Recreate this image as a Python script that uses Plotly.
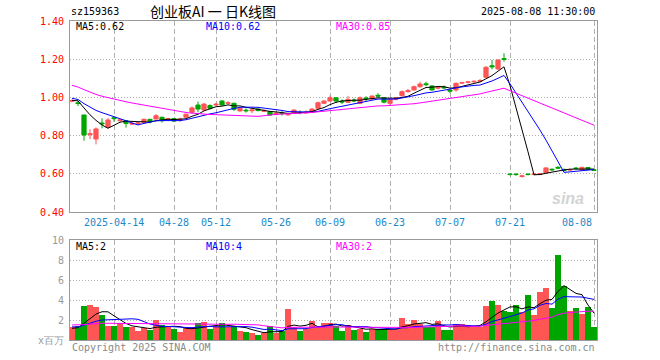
import pandas as pd
import plotly.graph_objects as go

# ---------------- data ----------------
holidays = ["2025-04-04", "2025-05-01", "2025-05-02", "2025-05-05", "2025-06-02"]
dates = [d.strftime("%Y-%m-%d") for d in
         pd.bdate_range("2025-04-02", "2025-08-08", freq="C", holidays=holidays)]

open_ = [0.980, 0.972, 0.908, 0.805, 0.782, 0.866, 0.844, 0.893, 0.878, 0.878,
         0.860, 0.862, 0.868, 0.885, 0.887, 0.896, 0.884, 0.889, 0.882, 0.896,
         0.922, 0.960, 0.934, 0.957, 0.960, 0.981, 0.969, 0.969, 0.929, 0.933,
         0.930, 0.939, 0.928, 0.926, 0.913, 0.918, 0.909, 0.917, 0.922, 0.919,
         0.925, 0.943, 0.969, 0.981, 0.998, 0.980, 0.974, 0.986, 0.969, 0.997,
         0.992, 1.011, 0.998, 0.969, 0.990, 1.009, 1.030, 1.039, 1.056, 1.071,
         1.060, 1.048, 1.054, 1.038, 1.039, 1.075, 1.079, 1.082, 1.085, 1.105,
         1.166, 1.149, 1.203, 0.598, 0.598, 0.586, 0.598, 0.596, 0.597, 0.605,
         0.624, 0.634, 0.622, 0.620, 0.630, 0.620, 0.633, 0.621]
high = [0.990, 0.983, 0.908, 0.833, 0.843, 0.891, 0.891, 0.902, 0.886, 0.880,
        0.870, 0.872, 0.890, 0.888, 0.913, 0.899, 0.893, 0.892, 0.893, 0.915,
        0.953, 0.978, 0.970, 0.964, 0.972, 0.985, 0.980, 0.972, 0.947, 0.943,
        0.947, 0.943, 0.937, 0.928, 0.922, 0.928, 0.918, 0.936, 0.932, 0.932,
        0.943, 0.978, 0.985, 1.010, 1.000, 0.990, 1.008, 0.995, 1.005, 1.006,
        1.010, 1.022, 1.000, 0.993, 1.000, 1.036, 1.045, 1.062, 1.082, 1.082,
        1.064, 1.058, 1.062, 1.042, 1.077, 1.082, 1.086, 1.090, 1.096, 1.163,
        1.196, 1.198, 1.231, 0.603, 0.604, 0.595, 0.604, 0.602, 0.604, 0.633,
        0.628, 0.640, 0.628, 0.626, 0.634, 0.636, 0.636, 0.624]
low = [0.975, 0.955, 0.773, 0.781, 0.754, 0.838, 0.838, 0.874, 0.872, 0.842,
       0.855, 0.857, 0.866, 0.864, 0.885, 0.868, 0.878, 0.872, 0.872, 0.893,
       0.915, 0.922, 0.930, 0.936, 0.955, 0.957, 0.962, 0.929, 0.926, 0.920,
       0.918, 0.927, 0.923, 0.905, 0.906, 0.905, 0.903, 0.915, 0.912, 0.914,
       0.922, 0.940, 0.965, 0.978, 0.970, 0.965, 0.970, 0.975, 0.965, 0.977,
       0.988, 0.998, 0.969, 0.960, 0.985, 1.005, 1.025, 1.036, 1.050, 1.058,
       1.035, 1.042, 1.045, 1.022, 1.030, 1.070, 1.073, 1.076, 1.079, 1.103,
       1.147, 1.143, 1.187, 0.592, 0.590, 0.580, 0.592, 0.592, 0.594, 0.603,
       0.614, 0.625, 0.612, 0.615, 0.622, 0.618, 0.620, 0.616]
close = [0.983, 0.968, 0.803, 0.810, 0.835, 0.862, 0.882, 0.889, 0.882, 0.864,
         0.864, 0.866, 0.885, 0.873, 0.904, 0.878, 0.888, 0.876, 0.886, 0.912,
         0.945, 0.939, 0.965, 0.943, 0.964, 0.960, 0.972, 0.938, 0.943, 0.930,
         0.934, 0.931, 0.930, 0.908, 0.917, 0.915, 0.912, 0.934, 0.920, 0.922,
         0.939, 0.972, 0.981, 0.998, 0.981, 0.976, 0.990, 0.982, 0.998, 0.993,
         1.007, 1.007, 0.975, 0.990, 0.998, 1.030, 1.036, 1.056, 1.070, 1.067,
         1.039, 1.054, 1.050, 1.033, 1.074, 1.077, 1.081, 1.084, 1.088, 1.158,
         1.160, 1.196, 1.199, 0.596, 0.596, 0.589, 0.596, 0.598, 0.601, 0.631,
         0.621, 0.630, 0.618, 0.622, 0.628, 0.634, 0.622, 0.618]
volume = [1.33, 1.43, 3.40, 3.50, 3.30, 2.50, 1.40, 1.40, 1.67, 1.30,
          1.30, 0.93, 1.17, 1.00, 2.00, 1.50, 1.27, 1.10, 0.83, 1.17,
          1.27, 1.67, 1.80, 1.10, 1.40, 1.67, 1.33, 1.40, 0.93, 0.83,
          0.70, 0.50, 0.67, 1.40, 0.73, 0.90, 3.10, 1.33, 0.90, 1.10,
          1.93, 1.27, 1.67, 1.67, 1.43, 0.93, 1.50, 1.00, 1.13, 0.83,
          1.13, 1.10, 1.10, 1.10, 1.10, 2.20, 1.60, 2.00, 1.60, 1.27,
          1.33, 1.90, 1.00, 1.00, 1.57, 1.57, 1.47, 1.33, 1.33, 3.40,
          3.90, 3.50, 2.90, 2.83, 3.50, 2.83, 4.50, 2.50, 4.83, 5.23,
          3.23, 8.50, 5.40, 2.93, 3.23, 2.60, 3.33, 1.33]

# closes / volumes of the 29 sessions before the window (feed the moving averages)
prior_close = [1.24, 1.22, 1.20, 1.19, 1.15, 1.12, 1.11, 1.08, 1.07, 1.06,
               1.04, 1.02, 1.02, 1.06, 1.09, 1.10, 1.06, 1.03, 1.04, 1.05,
               1.03, 1.02, 1.01, 0.99, 0.98, 0.98, 0.99, 0.99, 0.98]
prior_volume = [1.9, 2.1, 1.8, 1.7, 1.6, 1.5, 1.6, 1.7, 1.4, 1.5,
                1.6, 1.5, 1.4, 1.6, 1.7, 1.5, 1.4, 1.5, 1.6, 1.4,
                1.5, 1.6, 1.4, 1.5, 1.3, 1.1, 1.2, 1.0, 1.2]

tick_dates = ["2025-04-14", "2025-04-28", "2025-05-12", "2025-05-26", "2025-06-09",
              "2025-06-23", "2025-07-07", "2025-07-21", "2025-08-08"]
tick_labels = ["2025-04-14", "04-28", "05-12", "05-26", "06-09",
               "06-23", "07-07", "07-21", "08-08"]
price_ticks = [0.40, 0.60, 0.80, 1.00, 1.20, 1.40]
vol_ticks = [0, 2, 4, 6, 8, 10]
vol_tick_labels = ["x百万", "2", "4", "6", "8", "10"]
ma_periods = [5, 10, 30]

code = "sz159363"
title = "创业板AI 一 日K线图"
stamp = "2025-08-08 11:30:00"

# ---------------- styles ----------------
RED = "#FF5555"
GREEN = "#00A600"
MA_COLORS = ["#000000", "#0000FF", "#FF00FF"]
MONO = "DejaVu Sans Mono"
FRAME = "#9a9a9a"
GRID = "#b0b0b0"

L, R, T, B = 70, 597, 21, 340
W, H = 660, 360


def pxx(px):
    return (px - L) / (R - L)


def pxy(py):
    return (B - py) / (B - T)


def moving(values, prior, n):
    s = pd.Series(list(prior) + list(values)).rolling(n).mean()
    return s.iloc[len(prior):].tolist()


price_ma = [moving(close, prior_close, n) for n in ma_periods]
vol_ma = [moving(volume, prior_volume, n) for n in ma_periods]
bar_colors = [RED if c >= o else GREEN for o, c in zip(open_, close)]

fig = go.Figure()

fig.add_trace(go.Candlestick(
    x=dates, open=open_, high=high, low=low, close=close,
    increasing=dict(line=dict(color=RED, width=1), fillcolor=RED),
    decreasing=dict(line=dict(color=GREEN, width=1), fillcolor=GREEN),
    whiskerwidth=0, xaxis="x", yaxis="y", showlegend=False, hoverinfo="skip"))

for ma, col in zip(price_ma, MA_COLORS):
    fig.add_trace(go.Scatter(x=dates, y=ma, mode="lines",
                             line=dict(color=col, width=1),
                             xaxis="x", yaxis="y", showlegend=False, hoverinfo="skip"))

fig.add_trace(go.Bar(x=dates, y=volume, marker=dict(color=bar_colors, line=dict(width=0)),
                     width=0.84, xaxis="x2", yaxis="y2", showlegend=False, hoverinfo="skip"))

for ma, col in zip(vol_ma, MA_COLORS):
    fig.add_trace(go.Scatter(x=dates, y=ma, mode="lines",
                             line=dict(color=col, width=1),
                             xaxis="x2", yaxis="y2", showlegend=False, hoverinfo="skip"))

xr = [-0.333, len(dates) - 1 + 0.5]

common_x = dict(type="category", range=xr, tickvals=tick_dates, showticklabels=False,
                showgrid=True, gridcolor=GRID, griddash="5px,3px", gridwidth=1,
                showline=True, mirror=True, linecolor=FRAME, linewidth=1,
                zeroline=False, ticks="", fixedrange=True)

fig.update_layout(
    width=W, height=H,
    margin=dict(l=L, r=W - R, t=T, b=H - B, autoexpand=False),
    paper_bgcolor="white", plot_bgcolor="white",
    showlegend=False, bargap=0, boxgap=0.3, boxgroupgap=0,
    xaxis=dict(common_x, domain=[0, 1], anchor="y", rangeslider=dict(visible=False)),
    xaxis2=dict(common_x, domain=[0, 1], anchor="y2", matches="x"),
    yaxis=dict(domain=[pxy(212), 1], range=[0.40, 1.40], tickvals=price_ticks,
               ticktext=[f"{v:.2f}" for v in price_ticks],
               tickfont=dict(family=MONO, size=10, color="#FF0000"),
               showgrid=True, gridcolor=GRID, griddash="1px,2px", gridwidth=1,
               showline=True, mirror=True, linecolor=FRAME, linewidth=1,
               zeroline=False, ticks="outside", ticklen=3, tickcolor="rgba(0,0,0,0)",
               fixedrange=True),
    yaxis2=dict(domain=[0, pxy(240)], range=[0, 10], tickvals=vol_ticks,
                ticktext=vol_tick_labels,
                tickfont=dict(family=MONO, size=10, color="#999999"),
                showgrid=True, gridcolor=GRID, griddash="1px,2px", gridwidth=1,
                showline=True, mirror=True, linecolor=FRAME, linewidth=1,
                zeroline=False, ticks="outside", ticklen=3, tickcolor="rgba(0,0,0,0)",
                fixedrange=True),
)

ann = []


def text(x, y, s, color="#000000", size=10, family=MONO, xanchor="left", **kw):
    ann.append(dict(x=pxx(x), y=pxy(y), xref="paper", yref="paper", text=s,
                    showarrow=False, xanchor=xanchor, yanchor="middle",
                    font=dict(family=family, size=size, color=color), **kw))


text(69, 11, code)
text(213, 11, title, size=14, family="Noto Sans CJK SC", xanchor="center")
text(597, 11, stamp, xanchor="right")

legend_x = [74, 204, 334]
for n, ma, col, lx in zip(ma_periods, price_ma, MA_COLORS, legend_x):
    text(lx, 27, f"MA{n}:{ma[-1]:.2f}", color=col)
for n, ma, col, lx in zip(ma_periods, vol_ma, MA_COLORS, legend_x):
    text(lx, 246, f"MA{n}:{int(ma[-1])}", color=col)

text(70, 347, "Copyright 2025 SINA.COM", color="#8a8a8a")
text(597, 347, "http://finance.sina.com.cn", color="#8a8a8a", xanchor="right")
text(568, 198, "<b><i>sina</i></b>", color="#d4d4d4", size=16, family="Liberation Sans",
     xanchor="center")

for d, lab in zip(tick_dates, tick_labels):
    last = d == tick_dates[-1]
    ann.append(dict(x=d, y=pxy(212), xref="x", yref="paper", text=lab, showarrow=False,
                    xanchor="right" if last else "center", yanchor="top", yshift=-3,
                    font=dict(family=MONO, size=10, color="#1E88C8")))

fig.update_layout(annotations=ann)
fig.write_html("out.html", config={"displayModeBar": False, "staticPlot": True},
               post_script="document.body.style.margin='0px';")
